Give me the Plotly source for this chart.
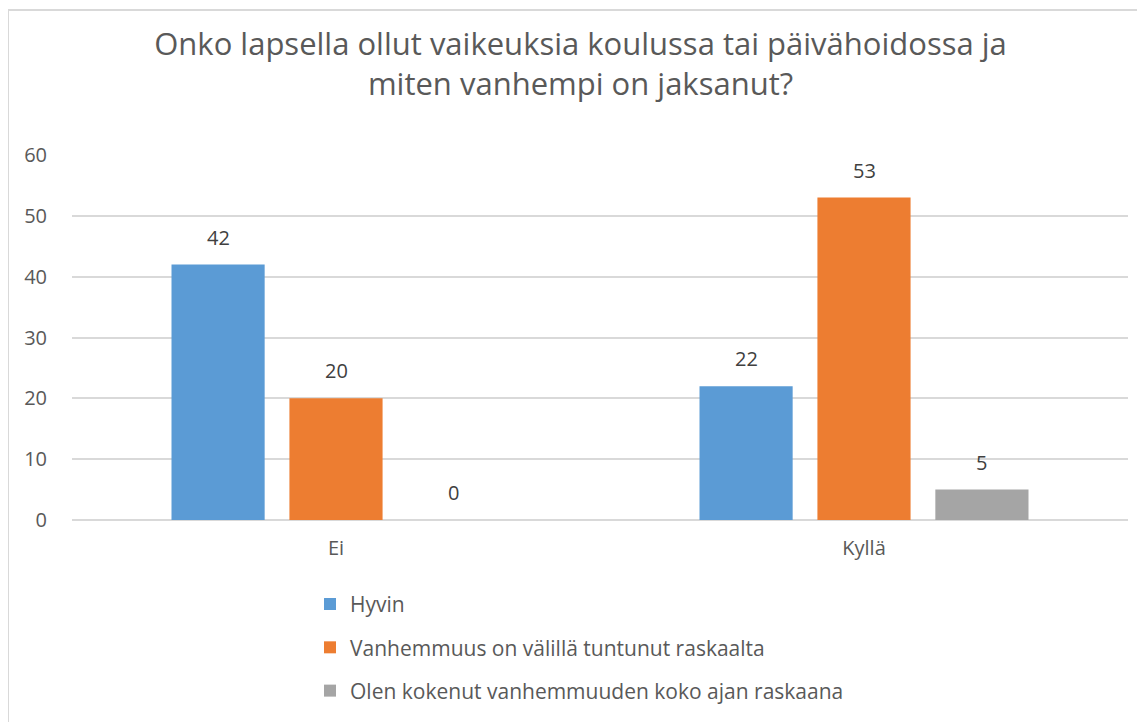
import plotly.graph_objects as go

categories = ["Ei", "Kyllä"]
series_names = [
    "Hyvin",
    "Vanhemmuus on välillä tuntunut raskaalta",
    "Olen kokenut vanhemmuuden koko ajan raskaana",
]
hyvin = [42, 22]
valilla = [20, 53]
koko_ajan = [0, 5]
colors = ["#5B9BD5", "#ED7D31", "#A5A5A5"]
y_ticks = [0, 10, 20, 30, 40, 50, 60]

FONT = "Open Sans"
TXT = "#595959"

W, H = 1145, 722
ML, MR, MT, MB = 64, 25, 147, 210
BARGAP, GROUPGAP = 0.33, 0.21
plot_w = W - ML - MR
slot = plot_w / len(categories) * (1 - BARGAP) / 3

fig = go.Figure()
annotations = []
for i, (name, vals) in enumerate(zip(series_names, [hyvin, valilla, koko_ajan])):
    fig.add_trace(go.Bar(
        x=categories, y=vals, name=name,
        marker=dict(color=colors[i], line=dict(width=0)),
        legendgroup=f"g{i}", hoverinfo="x+y+name",
    ))
    for c, v in zip(categories, vals):
        annotations.append(dict(
            x=c, y=v, xref="x", yref="y", text=str(v), showarrow=False,
            xanchor="center", yanchor="bottom", xshift=(i - 1) * slot, yshift=12,
            font=dict(family=FONT, size=20, color="#404040"),
        ))

fig.update_layout(
    width=W, height=H,
    margin=dict(l=ML, r=MR, t=MT, b=MB),
    paper_bgcolor="white", plot_bgcolor="white",
    title=dict(
        text="Onko lapsella ollut vaikeuksia koulussa tai päivähoidossa ja<br>miten vanhempi on jaksanut?",
        x=0.5, xanchor="center", y=0.935, yanchor="top",
        font=dict(family=FONT, size=31, color=TXT),
    ),
    bargap=BARGAP, bargroupgap=GROUPGAP,
    showlegend=True,
    legend=dict(
        orientation="v", x=0.2254, xanchor="left", y=-0.175, yanchor="top",
        font=dict(family=FONT, size=21, color=TXT),
        tracegroupgap=13, itemwidth=30,
    ),
    font=dict(family=FONT, color=TXT),
    annotations=annotations,
    shapes=[dict(type="rect", xref="paper", yref="paper",
                 x0=-(ML - 0) / plot_w, x1=1 + (MR - 5) / plot_w,
                 y0=-0.6, y1=1 + (MT - 2) / (H - MT - MB),
                 line=dict(color="#D9D9D9", width=2), fillcolor="rgba(0,0,0,0)",
                 layer="below")],
)
fig.update_xaxes(showline=False, ticks="", tickfont=dict(family=FONT, size=20, color=TXT),
                 showgrid=False, ticklabelstandoff=14)
fig.update_yaxes(range=[0, 60], tickvals=y_ticks, showgrid=True, gridcolor="#D9D9D9", gridwidth=1.5,
                 zeroline=True, zerolinecolor="#D9D9D9", zerolinewidth=1.5,
                 tickfont=dict(family=FONT, size=20, color=TXT), ticks="", ticklabelstandoff=24)
fig.write_html("out.html")
